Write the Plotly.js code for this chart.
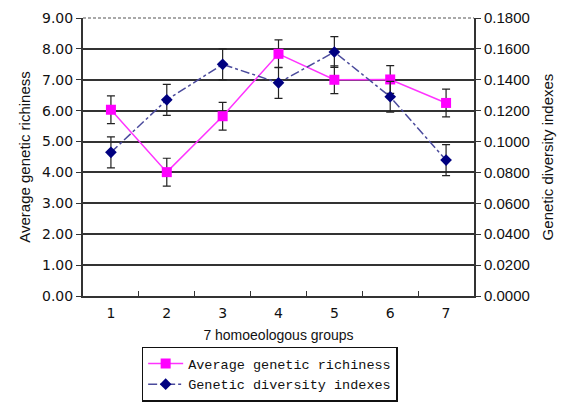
<!DOCTYPE html>
<html>
<head>
<meta charset="utf-8">
<script src="https://cdn.plot.ly/plotly-3.0.1.min.js"></script>
<style>html,body{margin:0;padding:0;background:#fff;}#chart{width:565px;height:409px;}</style>
</head>
<body>
<div id="chart"></div>
<script>
const groups = ['1', '2', '3', '4', '5', '6', '7'];
const richness = [6.03, 4.01, 5.82, 7.84, 7.00, 7.01, 6.25];
const richnessErr = [0.45, 0.45, 0.45, 0.45, 0.45, 0.45, 0.45];
const diversity = [0.093, 0.127, 0.150, 0.138, 0.158, 0.129, 0.088];
const diversityErr = [0.010, 0.010, 0.010, 0.010, 0.010, 0.010, 0.010];
const leftTicks = [0, 1, 2, 3, 4, 5, 6, 7, 8, 9];
const rightTicks = [0, 0.02, 0.04, 0.06, 0.08, 0.10, 0.12, 0.14, 0.16, 0.18];

const traces = [
  {
    x: groups, y: richness, name: 'Average genetic richiness',
    type: 'scatter', mode: 'lines+markers', yaxis: 'y',
    line: {color: '#ff33ff', width: 1.5},
    marker: {symbol: 'square', size: 10, color: '#ff00ff'},
    error_y: {type: 'data', array: richnessErr, visible: true, color: '#222', thickness: 1.2, width: 4}
  },
  {
    x: groups, y: diversity, name: 'Genetic diversity indexes',
    type: 'scatter', mode: 'lines+markers', yaxis: 'y2',
    line: {color: '#4a4a9c', width: 1.5, dash: 'dashdot'},
    marker: {symbol: 'diamond', size: 9, color: '#000080'},
    error_y: {type: 'data', array: diversityErr, visible: true, color: '#222', thickness: 1.2, width: 4}
  }
];

const layout = {
  width: 565, height: 409,
  margin: {l: 83, r: 91, t: 18, b: 113},
  paper_bgcolor: '#fff', plot_bgcolor: '#fff',
  font: {family: 'Liberation Sans, Arial, sans-serif', color: '#111', size: 14},
  showlegend: true,
  legend: {
    xref: 'paper', yref: 'container',
    x: 0.150, y: 0.152, xanchor: 'left', yanchor: 'top',
    bordercolor: '#111', borderwidth: 1.5, bgcolor: '#fff',
    font: {family: 'Liberation Mono, monospace', size: 13.5, color: '#111'},
    itemwidth: 35, tracegroupgap: 4
  },
  xaxis: {
    type: 'category', range: [-0.5, 6.5], automargin: false,
    showline: true, linecolor: '#333', linewidth: 2,
    ticks: 'inside', tickson: 'boundaries', ticklen: 5, tickcolor: '#333',
    showgrid: false, zeroline: false, ticklabelstandoff: 3,
    tickfont: {family: 'DejaVu Sans, sans-serif', size: 14, color: '#111'},
    title: {text: '7 homoeologous groups', font: {family: 'Liberation Sans, Arial, sans-serif', size: 14, color: '#111'}, standoff: 10}
  },
  yaxis: {
    range: [0, 9], tickvals: leftTicks, tickformat: '.2f', automargin: false,
    showline: true, linecolor: '#333', linewidth: 2,
    ticks: 'outside', ticklen: 5, tickcolor: '#333',
    showgrid: true, gridcolor: '#333', gridwidth: 2, zeroline: false,
    tickfont: {family: 'DejaVu Sans, sans-serif', size: 14, color: '#111'},
    title: {text: 'Average genetic richiness', font: {family: 'Liberation Sans, Arial, sans-serif', size: 15, color: '#111'}, standoff: 8}
  },
  yaxis2: {
    overlaying: 'y', side: 'right', range: [0, 0.18], tickvals: rightTicks, tickformat: '.4f', automargin: false,
    showline: true, linecolor: '#333', linewidth: 2,
    ticks: 'outside', ticklen: 5, tickcolor: '#333',
    showgrid: false, zeroline: false,
    tickfont: {family: 'Liberation Sans, Arial, sans-serif', size: 15, color: '#111'},
    title: {text: 'Genetic diversity indexes', font: {family: 'Liberation Sans, Arial, sans-serif', size: 15, color: '#111'}, standoff: 14}
  },
  shapes: [
    {type: 'line', xref: 'paper', yref: 'paper', x0: 0, x1: 1, y0: 1, y1: 1, line: {color: '#fff', width: 3}, layer: 'above'},
    {type: 'line', xref: 'paper', yref: 'paper', x0: 0, x1: 1, y0: 1, y1: 1, line: {color: '#555', width: 1.2, dash: '3px,2px'}, layer: 'above'}
  ]
};

Plotly.newPlot('chart', traces, layout, {displayModeBar: false, staticPlot: true});
</script>
</body>
</html>
